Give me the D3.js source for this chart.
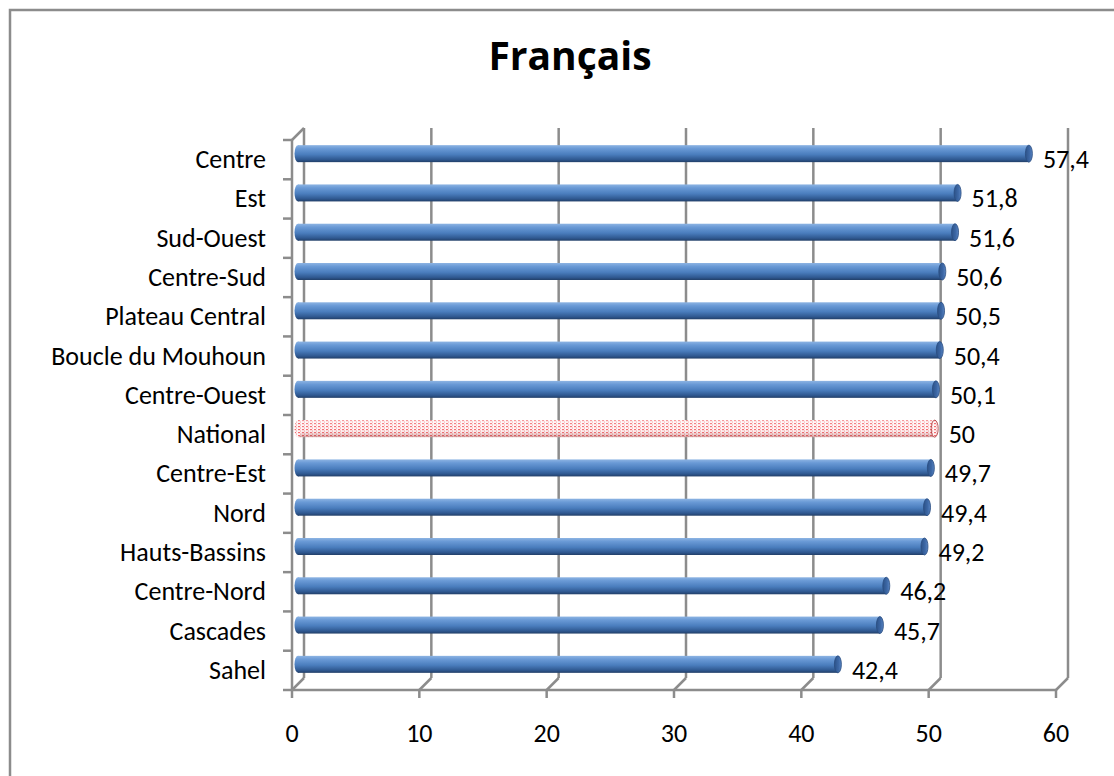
<!DOCTYPE html>
<html>
<head>
<meta charset="utf-8">
<script src="https://cdn.jsdelivr.net/npm/d3@7"></script>
<style>
  body { margin: 0; background: #fff; }
  text { font-family: Carlito, Calibri, "Noto Sans", sans-serif; fill: #000; }
</style>
</head>
<body>
<div class="canvas"></div>
<script>
// data, top to bottom as in the chart
const regions = ['Centre', 'Est', 'Sud-Ouest', 'Centre-Sud', 'Plateau Central', 'Boucle du Mouhoun',
  'Centre-Ouest', 'National', 'Centre-Est', 'Nord', 'Hauts-Bassins', 'Centre-Nord', 'Cascades', 'Sahel'];
const scores = [57.4, 51.8, 51.6, 50.6, 50.5, 50.4, 50.1, 50, 49.7, 49.4, 49.2, 46.2, 45.7, 42.4];
const xTicks = [0, 10, 20, 30, 40, 50, 60];
const title = 'Français';

const width = 1114, height = 776;
const depth = 12;   // 3d offset of the back wall
const gridColor = '#8c8c8c';

const svg = d3.select('.canvas')
  .append('svg')
  .attr('width', width)
  .attr('height', height);

// outer chart frame (cut off at right and bottom in the original)
svg.append('rect')
  .attr('x', 10).attr('y', 10)
  .attr('width', 1120).attr('height', 800)
  .attr('fill', 'none')
  .attr('stroke', gridColor)
  .attr('stroke-width', 2.5);

svg.append('text')
  .attr('x', 570).attr('y', 70)
  .attr('text-anchor', 'middle')
  .style('font-family', '"Open Sans", sans-serif')
  .style('font-size', '39px')
  .style('font-weight', 'bold')
  .text(title);

// front-plane scales
const x = d3.scaleLinear().domain([0, 60]).range([292, 1056]);
const y = d3.scaleBand().domain(regions).range([140, 690]);
const yBottom = 690, yTop = 140;

const defs = svg.append('defs');

const blue = defs.append('linearGradient').attr('id', 'blueGrad')
  .attr('x1', 0).attr('y1', 0).attr('x2', 0).attr('y2', 1);
[[0, '#8db4e3'], [0.2, '#6a9ad6'], [0.55, '#4a7dbd'], [0.85, '#2f5890'], [1, '#223f68']]
  .forEach(([o, c]) => blue.append('stop').attr('offset', o).attr('stop-color', c));

const capGrad = defs.append('linearGradient').attr('id', 'capGrad')
  .attr('x1', 0).attr('y1', 0).attr('x2', 1).attr('y2', 0);
[[0, '#2c5288'], [0.6, '#3d68a6'], [1, '#5a86c4']]
  .forEach(([o, c]) => capGrad.append('stop').attr('offset', o).attr('stop-color', c));

// dotted pattern for the national bar
const pat = defs.append('pattern').attr('id', 'natPat')
  .attr('width', 4).attr('height', 3).attr('patternUnits', 'userSpaceOnUse');
pat.append('rect').attr('width', 4).attr('height', 3).attr('fill', '#fff4f4');
pat.append('rect').attr('x', 0).attr('y', 0).attr('width', 2).attr('height', 1).attr('fill', '#f0555a');
pat.append('rect').attr('x', 2).attr('y', 1.5).attr('width', 1).attr('height', 1).attr('fill', '#f48a8d');

const shade = defs.append('linearGradient').attr('id', 'shade')
  .attr('x1', 0).attr('y1', 0).attr('x2', 0).attr('y2', 1);
[[0, 'rgba(255,255,255,0.25)'], [0.5, 'rgba(255,255,255,0)'], [1, 'rgba(120,0,0,0.35)']]
  .forEach(([o, c]) => shade.append('stop').attr('offset', o).attr('stop-color', c));

const grid = svg.append('g')
  .attr('stroke', gridColor)
  .attr('stroke-width', 2.5)
  .attr('fill', 'none');

// back-wall vertical gridlines and floor diagonals
xTicks.forEach(t => {
  grid.append('line')
    .attr('x1', x(t) + depth).attr('x2', x(t) + depth)
    .attr('y1', yTop - depth).attr('y2', yBottom - depth);
  grid.append('line')
    .attr('x1', x(t)).attr('x2', x(t) + depth)
    .attr('y1', yBottom).attr('y2', yBottom - depth);
  grid.append('line')
    .attr('x1', x(t)).attr('x2', x(t))
    .attr('y1', yBottom).attr('y2', yBottom + 8);
});

// front floor edge and left wall front edge
grid.append('line').attr('x1', x(0)).attr('x2', x(60)).attr('y1', yBottom).attr('y2', yBottom);
grid.append('line').attr('x1', x(0)).attr('x2', x(0)).attr('y1', yTop).attr('y2', yBottom);
grid.append('line').attr('x1', x(0)).attr('x2', x(0) + depth).attr('y1', yTop).attr('y2', yTop - depth);

// category ticks
regions.concat(['_end']).forEach((r, i) => {
  const yy = yTop + i * y.step();
  grid.append('line')
    .attr('x1', x(0) - 9).attr('x2', x(0))
    .attr('y1', yy).attr('y2', yy);
});

// category labels
svg.append('g').selectAll('text')
  .data(regions)
  .join('text')
  .attr('x', 266)
  .attr('y', d => y(d) + y.bandwidth() / 2 + 8.5)
  .attr('text-anchor', 'end')
  .style('font-size', '26px')
  .text(d => d);

// x tick labels
svg.append('g').selectAll('text')
  .data(xTicks)
  .join('text')
  .attr('x', d => x(d))
  .attr('y', 742)
  .attr('text-anchor', 'middle')
  .style('font-size', '26px')
  .text(d => d);

// cylinder bars, drawn at mid depth
const barH = 17, capRx = 3.5;
const bars = svg.append('g').selectAll('g')
  .data(regions.map((r, i) => ({ name: r, value: scores[i] })))
  .join('g')
  .attr('transform', d => `translate(${depth / 2},${y(d.name) + y.bandwidth() / 2 - depth / 2 - barH / 2})`);

bars.append('rect')
  .attr('x', x(0))
  .attr('width', d => x(d.value) - x(0))
  .attr('height', barH)
  .attr('fill', d => d.name === 'National' ? 'url(#natPat)' : 'url(#blueGrad)');

bars.filter(d => d.name === 'National').append('rect')
  .attr('x', x(0))
  .attr('width', d => x(d.value) - x(0))
  .attr('height', barH)
  .attr('fill', 'url(#shade)');

// left round end
bars.append('ellipse')
  .attr('cx', x(0))
  .attr('cy', barH / 2)
  .attr('rx', capRx).attr('ry', barH / 2)
  .attr('fill', d => d.name === 'National' ? 'url(#natPat)' : 'url(#blueGrad)');

// right cap
bars.append('ellipse')
  .attr('cx', d => x(d.value))
  .attr('cy', barH / 2)
  .attr('rx', capRx).attr('ry', barH / 2)
  .attr('fill', d => d.name === 'National' ? 'url(#natPat)' : 'url(#capGrad)')
  .attr('stroke', d => d.name === 'National' ? '#a83236' : '#2a4c80')
  .attr('stroke-width', 0.8);

// value labels
svg.append('g').selectAll('text')
  .data(regions.map((r, i) => ({ name: r, value: scores[i] })))
  .join('text')
  .attr('x', d => x(d.value) + depth / 2 + 14)
  .attr('y', d => y(d.name) + y.bandwidth() / 2 + 8.5)
  .style('font-size', '26px')
  .text(d => String(d.value).replace('.', ','));
</script>
</body>
</html>
